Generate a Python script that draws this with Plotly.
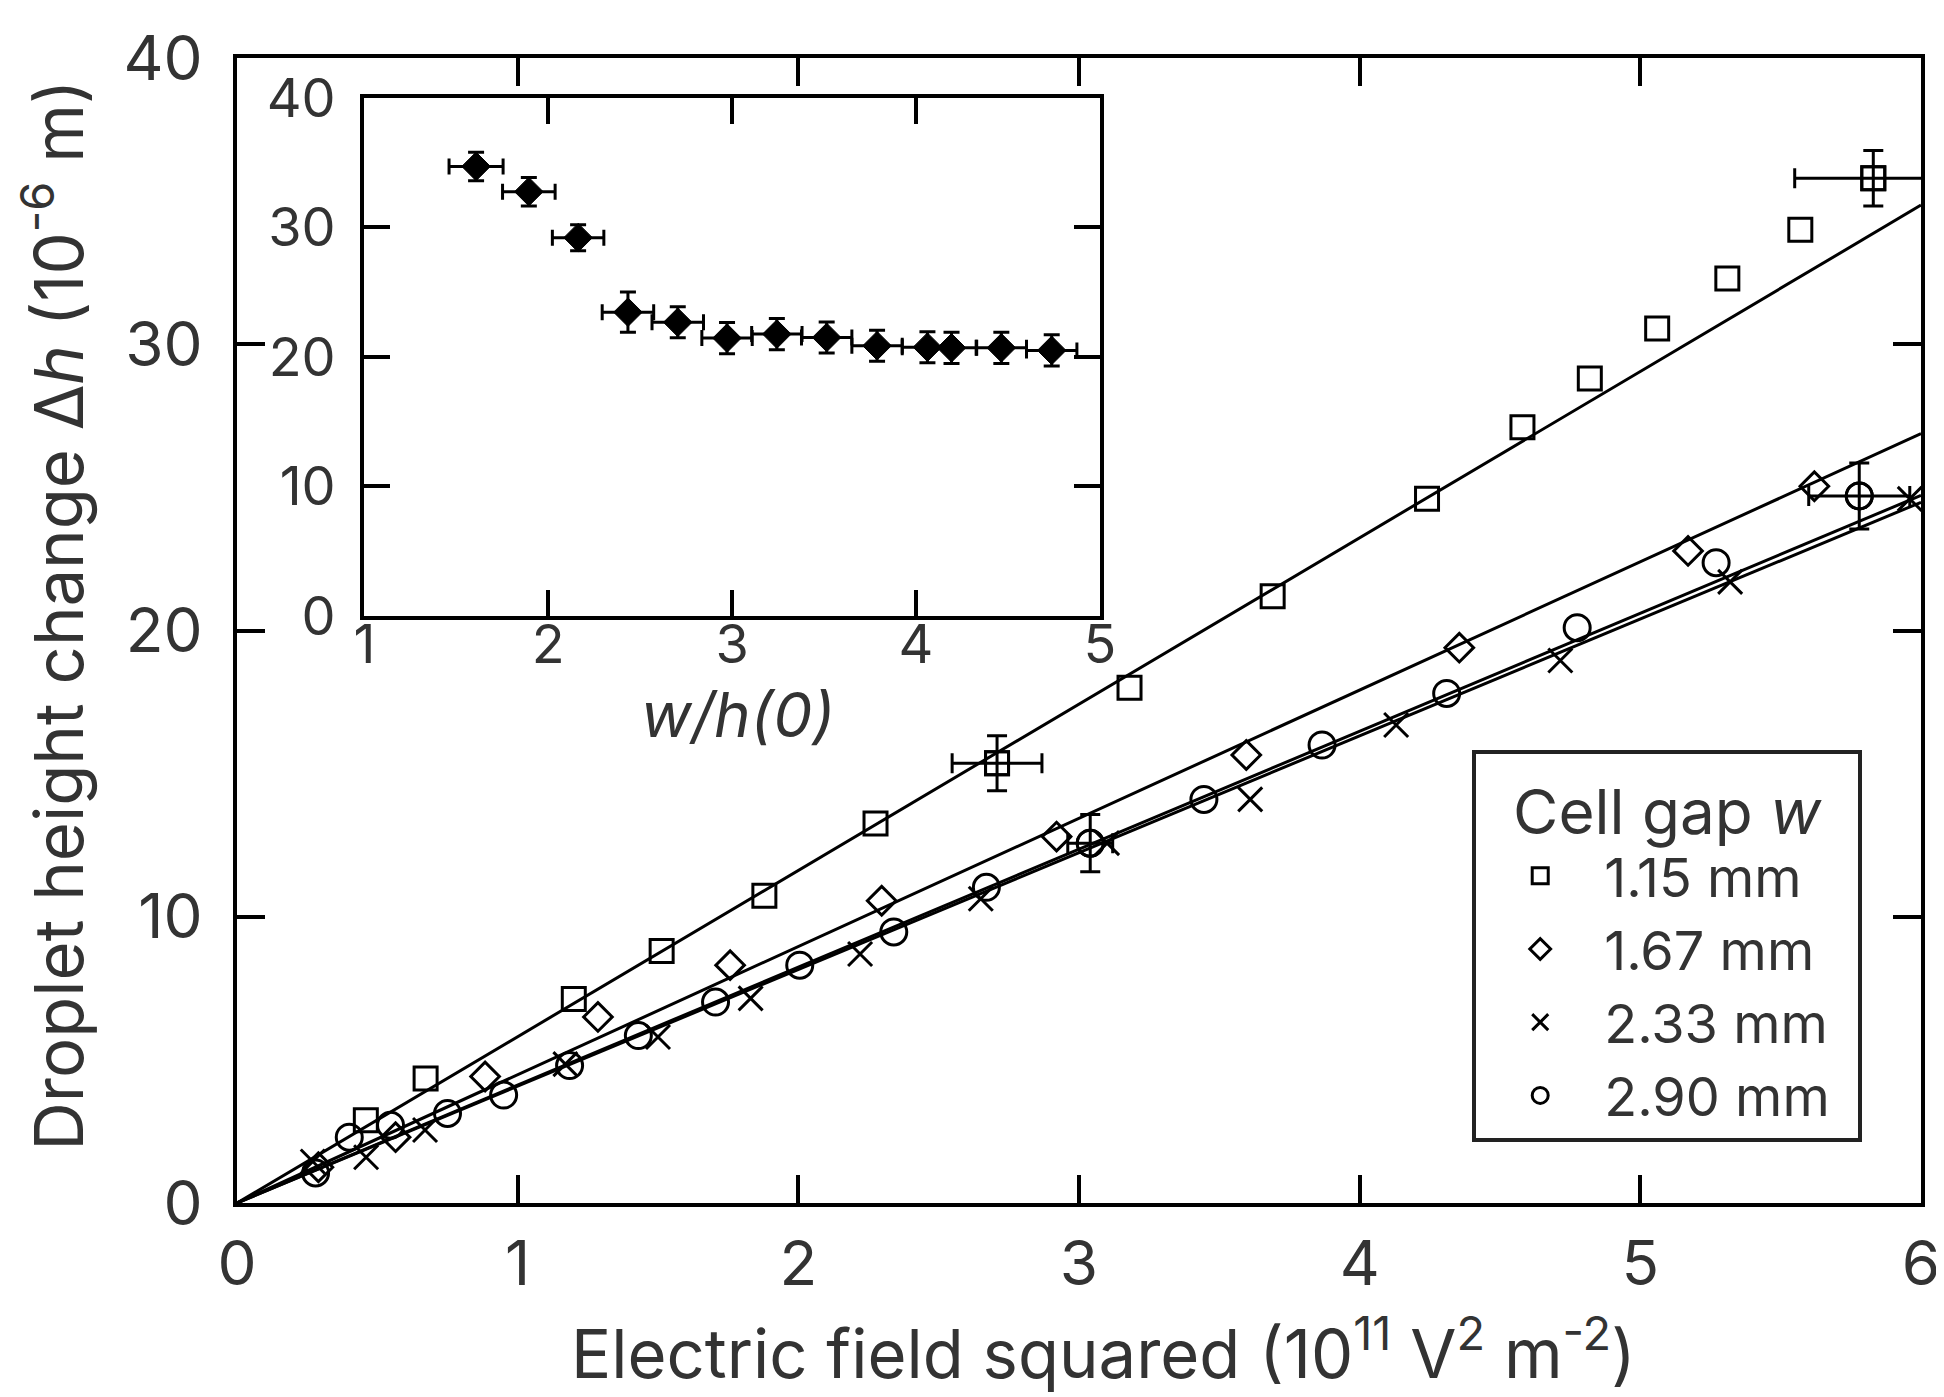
import plotly.graph_objects as go

# ---------------- data ----------------
# main panel: electric field squared (1e11 V^2 m^-2) vs droplet height change (1e-6 m)
sq_x = [0.459, 0.672, 1.20, 1.513, 1.879, 2.275, 2.708, 3.18, 3.69, 4.24, 4.58, 4.82, 5.06, 5.31, 5.57, 5.83]
sq_y = [2.89, 4.35, 7.13, 8.80, 10.73, 13.26, 15.36, 18.0, 21.2, 24.6, 27.1, 28.8, 30.55, 32.3, 34.0, 35.8]
# points of the 1.15 mm series that carry error bars (index, x error, y error)
sq_err_idx = [6, 15]
sq_err_x = [0.16, 0.28]
sq_err_y = [0.96, 0.97]

di_x = [0.29, 0.565, 0.884, 1.286, 1.757, 2.297, 2.92, 3.596, 4.355, 5.17, 5.62]
di_y = [1.25, 2.3, 4.42, 6.5, 8.31, 10.56, 12.8, 15.65, 19.4, 22.78, 25.04]

cr_x = [0.27, 0.46, 0.67, 1.17, 1.50, 1.83, 2.22, 2.65, 3.10, 3.61, 4.13, 4.715, 5.32, 5.96]
cr_y = [1.45, 1.6, 2.55, 4.85, 5.8, 7.15, 8.7, 10.63, 12.57, 14.1, 16.7, 18.95, 21.7, 24.6]

ci_x = [0.28, 0.40, 0.547, 0.75, 0.95, 1.185, 1.43, 1.705, 2.005, 2.34, 2.67, 3.04, 3.445, 3.866, 4.31, 4.775, 5.27, 5.78]
ci_y = [1.05, 2.3, 2.72, 3.13, 3.77, 4.8, 5.85, 7.02, 8.31, 9.47, 11.03, 12.57, 14.1, 16.0, 17.8, 20.1, 22.37, 24.7]
ci_err_idx = [11, 17]
ci_err_x = [0.08, 0.18]
ci_err_y = [1.0, 1.15]

# linear fits through the origin (slope in 1e-6 m per 1e11 V^2 m^-2)
fit_x = [0, 6]
fit_slopes = [5.81, 4.48, 4.12, 4.08]

series_names = ["1.15 mm", "1.67 mm", "2.33 mm", "2.90 mm"]

# inset: w/h(0) vs coefficient
in_x = [1.607, 1.894, 2.162, 2.433, 2.704, 2.972, 3.243, 3.514, 3.788, 4.062, 4.193, 4.464, 4.738]
in_y = [34.7, 32.75, 29.2, 23.45, 22.67, 21.45, 21.76, 21.5, 20.86, 20.75, 20.7, 20.7, 20.5]
in_ex = [0.147, 0.143, 0.14, 0.14, 0.14, 0.137, 0.137, 0.137, 0.137, 0.137, 0.137, 0.137, 0.137]
in_ey = [1.1, 1.1, 1.0, 1.55, 1.2, 1.2, 1.2, 1.2, 1.2, 1.2, 1.2, 1.2, 1.2]

main_xticks = [0, 1, 2, 3, 4, 5, 6]
main_yticks = [0, 10, 20, 30, 40]
inset_xticks = [1, 2, 3, 4, 5]
inset_yticks = [0, 10, 20, 30, 40]

x_title = "Electric field squared (10<sup>11</sup> V<sup>2</sup> m<sup>-2</sup>)"
y_title = "Droplet height change Δ<i>h</i> (10<sup>-6</sup> m)"
inset_x_title = "<i>w/h(0)</i>"
legend_title = "\u00a0\u00a0Cell gap <i>w</i>\u00a0\u00a0"

# ---------------- figure ----------------
FONT = "Inter, Liberation Sans, Arial, sans-serif"
TXT = "#333333"
LW = 3

fig = go.Figure()

# fit lines
for s in fit_slopes:
    fig.add_trace(go.Scatter(
        x=fit_x, y=[s * v for v in fit_x], mode="lines",
        line=dict(color="black", width=3), showlegend=False, hoverinfo="skip"))

err_style = dict(type="data", color="black", thickness=3, width=10)

sq_marker = dict(symbol="square-open", size=23, color="black", line=dict(width=LW, color="black"))
di_marker = dict(symbol="diamond-open", size=22, color="black", line=dict(width=LW, color="black"))
cr_marker = dict(symbol="x-thin-open", size=24, color="black", line=dict(width=LW, color="black"))
ci_marker = dict(symbol="circle-open", size=26, color="black", line=dict(width=LW, color="black"))

fig.add_trace(go.Scatter(x=sq_x, y=sq_y, mode="markers", name=series_names[0], marker=sq_marker))
fig.add_trace(go.Scatter(x=di_x, y=di_y, mode="markers", name=series_names[1], marker=di_marker))
fig.add_trace(go.Scatter(x=cr_x, y=cr_y, mode="markers", name=series_names[2], marker=cr_marker))
fig.add_trace(go.Scatter(x=ci_x, y=ci_y, mode="markers", name=series_names[3], marker=ci_marker))

# error bars on selected points
fig.add_trace(go.Scatter(
    x=[sq_x[i] for i in sq_err_idx], y=[sq_y[i] for i in sq_err_idx], mode="markers",
    marker=sq_marker, showlegend=False,
    error_x=dict(array=sq_err_x, **err_style), error_y=dict(array=sq_err_y, **err_style)))
fig.add_trace(go.Scatter(
    x=[ci_x[i] for i in ci_err_idx], y=[ci_y[i] for i in ci_err_idx], mode="markers",
    marker=ci_marker, showlegend=False,
    error_x=dict(array=ci_err_x, **err_style), error_y=dict(array=ci_err_y, **err_style)))

# inset trace
fig.add_trace(go.Scatter(
    x=in_x, y=in_y, mode="markers", showlegend=False, xaxis="x2", yaxis="y2",
    marker=dict(symbol="diamond", size=22, color="black", line=dict(width=1, color="black")),
    error_x=dict(type="data", array=in_ex, color="black", thickness=3, width=8),
    error_y=dict(type="data", array=in_ey, color="black", thickness=3, width=8)))

axis_common = dict(showline=True, linecolor="black", mirror="ticks", ticks="inside",
                   tickcolor="black", showgrid=False, zeroline=False)

fig.update_layout(
    width=1944, height=1397,
    margin=dict(l=229, r=23, t=44, b=202),
    paper_bgcolor="white", plot_bgcolor="white",
    font=dict(family=FONT, color=TXT, size=60),
    xaxis=dict(range=[0, 6], tickvals=main_xticks, linewidth=4, ticklen=28, tickwidth=3.5,
               tickfont=dict(size=62), ticklabelstandoff=4,
               domain=[0, 1], anchor="y", **axis_common),
    yaxis=dict(range=[0, 40], tickvals=main_yticks, linewidth=4, ticklen=28, tickwidth=3.5,
               tickfont=dict(size=62), ticklabelstandoff=18,
               domain=[0, 1], anchor="x", **axis_common),
    xaxis2=dict(range=[1, 5], tickvals=inset_xticks, linewidth=4, ticklen=26, tickwidth=3.5,
                tickfont=dict(size=54), ticklabelstandoff=-22,
                domain=[0.0757, 0.5124], anchor="y2", **axis_common),
    yaxis2=dict(range=[0, 40], tickvals=inset_yticks, linewidth=4, ticklen=26, tickwidth=3.5,
                tickfont=dict(size=54), ticklabelstandoff=14,
                domain=[0.5126, 0.9653], anchor="x2", **axis_common),
    legend=dict(x=0.7335, y=0.396, xanchor="left", yanchor="top",
                bgcolor="white", bordercolor="#222222", borderwidth=4,
                font=dict(size=54, color=TXT, family=FONT),
                title=dict(text=legend_title, font=dict(size=62, color=TXT)),
                itemwidth=118, indentation=0, tracegroupgap=0),
    annotations=[
        dict(text=inset_x_title, xref="x2 domain", yref="y2 domain",
             x=0.508, y=-0.19, xanchor="center", yanchor="middle",
             showarrow=False, font=dict(size=62, color=TXT, family=FONT)),
        dict(text=x_title, xref="paper", yref="paper", x=0.5148, y=-0.128,
             xanchor="center", yanchor="middle", showarrow=False,
             font=dict(size=67, color=TXT, family=FONT)),
        dict(text=y_title, xref="paper", yref="paper", x=-0.109, y=0.5135,
             xanchor="center", yanchor="middle", textangle=-90, showarrow=False,
             font=dict(size=67, color=TXT, family=FONT)),
    ],
    showlegend=True,
)

fig.write_html("out.html")
